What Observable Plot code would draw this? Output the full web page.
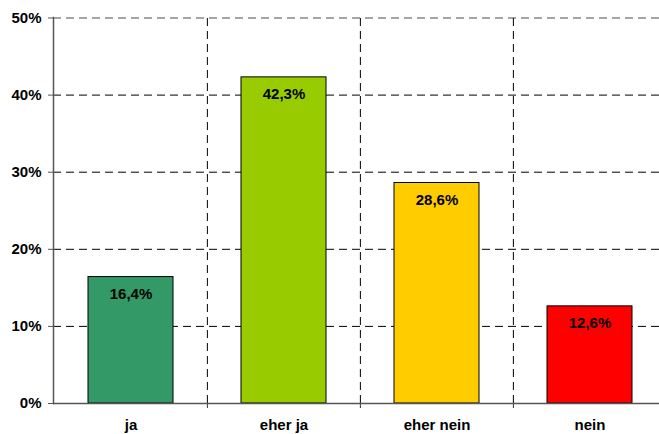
<!DOCTYPE html>
<html>
<head>
<meta charset="utf-8">
<script src="https://cdn.jsdelivr.net/npm/d3@7"></script>
<script src="https://cdn.jsdelivr.net/npm/@observablehq/plot@0.6"></script>
<style>
  html, body { margin: 0; padding: 0; background: #fff; overflow: hidden; }
  svg { display: block; }
</style>
</head>
<body>
<div id="chart"></div>
<script>
const categories = ["ja", "eher ja", "eher nein", "nein"];
const values = [16.4, 42.3, 28.6, 12.6];
const colors = ["#339966", "#99CC00", "#FFCC00", "#FF0000"];
const yTicks = [0, 10, 20, 30, 40, 50];

const data = categories.map((c, i) => ({cat: c, value: values[i], color: colors[i]}));
const fmt = v => v.toFixed(1).replace(".", ",") + "%";

const W = 659, H = 434;
const xRange = [53, 666];
const step = (xRange[1] - xRange[0]) / categories.length;

const chart = Plot.plot({
  width: W,
  height: H,
  marginLeft: 53,
  marginRight: 0,
  marginTop: 17,
  marginBottom: 31,
  style: {fontFamily: "'Liberation Sans', Arial, sans-serif", fontWeight: "bold", fontSize: "15px", color: "#000", background: "#fff"},
  x: {domain: categories, range: xRange, paddingInner: 0.445, paddingOuter: 0.2225, align: 0.5},
  y: {domain: [0, 50], range: [403, 17.5]},
  marks: [
    // horizontal gridlines
    Plot.ruleY(yTicks.filter(t => t > 0 && t < 50), {stroke: "#000", strokeWidth: 1, strokeDasharray: "8,5"}),
    Plot.ruleY([50], {stroke: "#888", strokeWidth: 1.5, strokeDasharray: "8,5"}),
    // vertical category boundary gridlines
    Plot.ruleX(categories.slice(1), {x: d => d, dx: -step / 2, y1: 0, y2: 50, stroke: "#000", strokeWidth: 1, strokeDasharray: "8,5"}),
    // boundary ticks below axis
    Plot.ruleX(categories.slice(1), {x: d => d, dx: -step / 2, y1: -0.65, y2: 0, stroke: "#333", strokeWidth: 1}),
    // bars
    Plot.barY(data, {x: "cat", y: "value", fill: "color", stroke: "#000", strokeWidth: 1}),
    Plot.text(data, {x: "cat", y: "value", text: d => fmt(d.value), dy: 17, fontSize: 15, fontWeight: "bold", fill: "#000"}),
    // axes
    Plot.ruleY([0], {stroke: "#555", strokeWidth: 1.5}),
    Plot.frame({anchor: "left", stroke: "#555", strokeWidth: 1.5}),
    Plot.axisY({ticks: yTicks, tickSize: 5, tickPadding: 7, tickFormat: d => d + "%", fontSize: 15, fontWeight: "bold", label: null, stroke: "#555"}),
    Plot.axisX({tickSize: 0, tickPadding: 16, fontSize: 15, fontWeight: "bold", label: null})
  ]
});
document.getElementById("chart").appendChild(chart);
</script>
</body>
</html>
